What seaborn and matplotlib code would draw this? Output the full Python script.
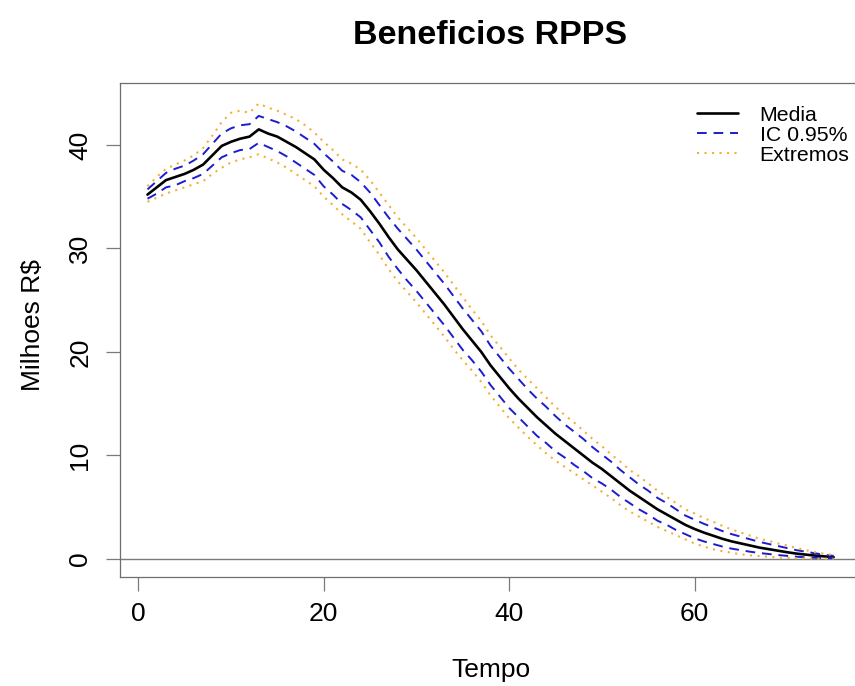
import matplotlib
matplotlib.use("Agg")
import matplotlib.pyplot as plt
import seaborn as sns

# Beneficios RPPS - media, IC 0.95% e extremos por ano

tempo = list(range(1, 76))

media = [35.2, 35.9, 36.6, 36.9, 37.2, 37.6, 38.1, 39.0, 39.9, 40.3,
         40.6, 40.8, 41.5, 41.1, 40.8, 40.3, 39.8, 39.2, 38.6, 37.6,
         36.8, 35.9, 35.4, 34.7, 33.6, 32.4, 31.1, 29.9, 28.9, 27.9,
         26.8, 25.7, 24.6, 23.4, 22.2, 21.1, 20.0, 18.7, 17.6, 16.5,
         15.5, 14.6, 13.7, 12.9, 12.1, 11.4, 10.7, 10.0, 9.3, 8.7,
         8.0, 7.3, 6.6, 6.0, 5.4, 4.8, 4.3, 3.8, 3.3, 2.9,
         2.55, 2.25, 1.95, 1.7, 1.5, 1.3, 1.1, 0.95, 0.8, 0.65,
         0.52, 0.42, 0.33, 0.25, 0.18]

ic_sup = [35.7, 36.5, 37.3, 37.7, 38.0, 38.5, 39.1, 40.1, 41.1, 41.6,
          41.9, 42.0, 42.8, 42.5, 42.2, 41.8, 41.3, 40.7, 40.1, 39.2,
          38.4, 37.5, 37.1, 36.4, 35.4, 34.2, 33.0, 31.9, 30.9, 29.9,
          28.8, 27.7, 26.6, 25.4, 24.2, 23.1, 22.0, 20.6, 19.5, 18.4,
          17.4, 16.4, 15.5, 14.7, 13.8, 13.0, 12.3, 11.6, 10.8, 10.1,
          9.4, 8.6, 7.9, 7.2, 6.6, 5.9, 5.4, 4.8, 4.2, 3.8,
          3.4, 3.05, 2.7, 2.4, 2.15, 1.9, 1.65, 1.45, 1.25, 1.05,
          0.85, 0.7, 0.55, 0.4, 0.3]

ic_inf = [34.8, 35.3, 35.9, 36.1, 36.5, 36.8, 37.2, 38.0, 38.8, 39.2,
          39.5, 39.6, 40.2, 39.8, 39.4, 38.9, 38.3, 37.7, 37.1, 36.0,
          35.2, 34.3, 33.7, 33.0, 31.8, 30.6, 29.2, 28.0, 26.9, 25.9,
          24.8, 23.7, 22.6, 21.4, 20.2, 19.2, 18.1, 16.8, 15.7, 14.6,
          13.7, 12.8, 11.9, 11.2, 10.4, 9.8, 9.1, 8.5, 7.8, 7.3,
          6.7, 6.0, 5.4, 4.8, 4.3, 3.7, 3.3, 2.8, 2.4, 2.0,
          1.7, 1.45, 1.2, 1.0, 0.85, 0.7, 0.58, 0.48, 0.38, 0.3,
          0.22, 0.16, 0.12, 0.1, 0.08]

ext_sup = [36.0, 36.9, 37.7, 38.1, 38.5, 39.0, 39.7, 40.9, 42.2, 43.1,
           43.3, 43.1, 44.0, 43.6, 43.3, 42.9, 42.5, 41.9, 41.2, 40.3,
           39.5, 38.6, 38.2, 37.6, 36.6, 35.4, 34.2, 33.0, 32.0, 31.0,
           29.9, 28.8, 27.7, 26.5, 25.3, 24.1, 23.0, 21.6, 20.5, 19.4,
           18.3, 17.4, 16.5, 15.6, 14.7, 13.9, 13.2, 12.4, 11.6, 10.9,
           10.1, 9.4, 8.6, 8.0, 7.3, 6.6, 6.0, 5.4, 4.8, 4.4,
           3.95, 3.6, 3.2, 2.85, 2.55, 2.25, 1.95, 1.75, 1.5, 1.3,
           1.05, 0.85, 0.65, 0.5, 0.38]

ext_inf = [34.5, 34.9, 35.3, 35.6, 35.9, 36.2, 36.5, 37.2, 37.8, 38.3,
           38.6, 38.8, 39.1, 38.7, 38.3, 37.8, 37.2, 36.6, 36.0, 35.0,
           34.2, 33.3, 32.6, 31.9, 30.6, 29.4, 28.0, 26.8, 25.8, 24.8,
           23.7, 22.6, 21.5, 20.3, 19.2, 18.2, 17.1, 15.8, 14.7, 13.6,
           12.7, 11.8, 11.0, 10.2, 9.5, 8.9, 8.3, 7.7, 7.1, 6.5,
           5.9, 5.2, 4.6, 4.1, 3.6, 3.1, 2.7, 2.3, 1.9, 1.5,
           1.2, 0.95, 0.75, 0.6, 0.45, 0.35, 0.28, 0.22, 0.15, 0.1,
           0.07, 0.05, 0.04, 0.03, 0.02]

x_ticks = [0, 20, 40, 60]
y_ticks = [0, 10, 20, 30, 40]


def main():
    sns.set_theme(style="white")
    plt.rcParams["font.family"] = ["Liberation Sans", "DejaVu Sans"]
    plt.rcParams["text.color"] = "black"
    plt.rcParams["axes.labelcolor"] = "black"

    fig = plt.figure(figsize=(8.55, 6.86), dpi=100)
    # plot region like R base graphics (right side gets cut off in the original)
    ax = fig.add_axes([0.1404, 0.1589, 0.8667, 0.7201])

    azul = "#1c1cd0"
    laranja = "#f2b035"

    sns.lineplot(x=tempo, y=media, ax=ax, color="black", linewidth=1.9,
                 label="Media")
    sns.lineplot(x=tempo, y=ic_sup, ax=ax, color=azul, linewidth=1.4,
                 linestyle=(0, (5, 3.5)), label="IC 0.95%")
    sns.lineplot(x=tempo, y=ic_inf, ax=ax, color=azul, linewidth=1.4,
                 linestyle=(0, (5, 3.5)))
    sns.lineplot(x=tempo, y=ext_sup, ax=ax, color=laranja, linewidth=1.5,
                 linestyle=(0, (1, 2.6)), label="Extremos")
    sns.lineplot(x=tempo, y=ext_inf, ax=ax, color=laranja, linewidth=1.5,
                 linestyle=(0, (1, 2.6)))

    ax.axhline(0, color="#7a7a7a", linewidth=1.0, zorder=0)

    ax.set_xlim(-1.96, 77.96)
    ax.set_ylim(-1.74, 45.98)
    ax.set_xticks(x_ticks)
    ax.set_yticks(y_ticks)

    for side in ax.spines.values():
        side.set_color("#6e6e6e")
        side.set_linewidth(0.9)

    ax.tick_params(axis="both", bottom=True, left=True, direction="out",
                   length=10, width=0.9, color="#7a7a7a", labelsize=19,
                   labelcolor="black")
    ax.tick_params(axis="x", pad=8)
    ax.tick_params(axis="y", pad=10)
    for lab in ax.get_yticklabels():
        lab.set_rotation(90)
        lab.set_va("center")

    ax.set_xlabel("Tempo", fontsize=19, color="black")
    ax.xaxis.set_label_coords(0.5, -0.163)
    ax.set_ylabel("Milhoes R$", fontsize=19, va="center", color="black")
    ax.yaxis.set_label_coords(-0.117, 0.51)

    ax.set_title("Beneficios RPPS", fontsize=24.5, fontweight="bold",
                 color="black", y=1.097, va="center", pad=0)

    leg = ax.legend(loc="upper left", bbox_to_anchor=(0.815, 0.846),
                    bbox_transform=fig.transFigure, frameon=False,
                    fontsize=15.3, handlelength=1.95, handletextpad=1.0,
                    labelspacing=0.05, borderpad=0, borderaxespad=0)
    for txt in leg.get_texts():
        txt.set_color("black")

    fig.savefig("out.png", dpi=100)


if __name__ == "__main__":
    main()
